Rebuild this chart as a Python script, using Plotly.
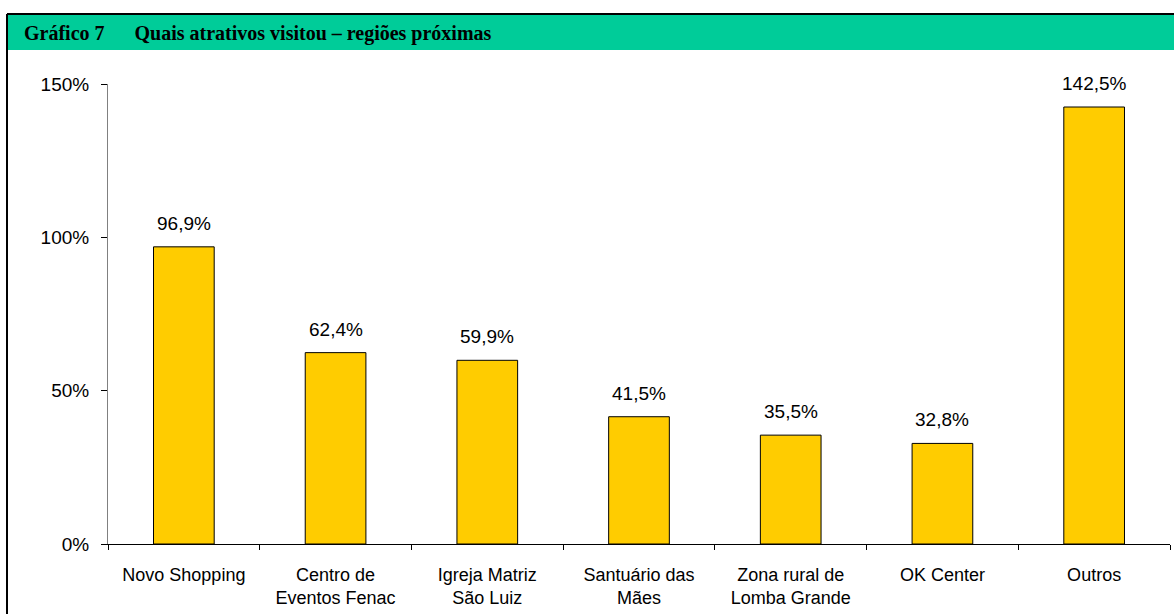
import plotly.graph_objects as go

categories = ["Novo Shopping", "Centro de<br>Eventos Fenac", "Igreja Matriz<br>São Luiz",
              "Santuário das<br>Mães", "Zona rural de<br>Lomba Grande", "OK Center", "Outros"]
values = [96.9, 62.4, 59.9, 41.5, 35.5, 32.8, 142.5]
y_ticks = [0, 50, 100, 150]
y_tick_text = ["0%", "50%", "100%", "150%"]

W, H = 1174, 614
L, R, T, B = 108, 4, 84, 70
pw, ph = W - L - R, H - T - B

def px_x(x):
    return (x - L) / pw

def px_y(y):
    return (H - B - y) / ph

FONT = "Arial, Liberation Sans, sans-serif"

fig = go.Figure(go.Bar(
    x=categories, y=values,
    marker=dict(color="#FFCC00", line=dict(color="#000000", width=1)),
    hoverinfo="x+y",
))

label_annotations = [
    dict(x=c, y=v, xref="x", yref="y", text=f"{v:.1f}%".replace(".", ","),
         showarrow=False, yanchor="bottom", yshift=11,
         font=dict(family=FONT, size=19, color="#000000"))
    for c, v in zip(categories, values)
]

fig.update_layout(
    width=W, height=H,
    margin=dict(l=L, r=R, t=T, b=B),
    paper_bgcolor="white", plot_bgcolor="white",
    bargap=0.6,
    showlegend=False,
    font=dict(family=FONT, size=19, color="#000000"),
    xaxis=dict(
        showline=True, linecolor="#000000", linewidth=1,
        ticks="outside", tickson="boundaries", ticklen=5, tickcolor="#000000",
        showgrid=False, tickfont=dict(size=18), ticklabelstandoff=14,
    ),
    yaxis=dict(
        range=[0, 150], tickvals=y_ticks, ticktext=y_tick_text,
        showline=True, linecolor="#808080", linewidth=1,
        ticks="outside", ticklen=6, tickcolor="#000000",
        showgrid=False, zeroline=False, tickfont=dict(size=19), ticklabelstandoff=8,
    ),
    shapes=[
        dict(type="rect", xref="paper", yref="paper",
             x0=px_x(7), x1=px_x(1180), y0=px_y(50), y1=px_y(15),
             fillcolor="#00CC99", line=dict(width=0), layer="below"),
        dict(type="line", xref="paper", yref="paper",
             x0=px_x(7), x1=px_x(1180), y0=px_y(14), y1=px_y(14),
             line=dict(color="#000000", width=2)),
        dict(type="line", xref="paper", yref="paper",
             x0=px_x(7), x1=px_x(7), y0=px_y(14), y1=px_y(620),
             line=dict(color="#000000", width=2)),
    ],
    annotations=label_annotations + [
        dict(xref="paper", yref="paper", x=px_x(22), y=px_y(33),
             xanchor="left", yanchor="middle", showarrow=False,
             text="<b>Gráfico 7      Quais atrativos visitou – regiões próximas</b>",
             font=dict(family="Times New Roman, Liberation Serif", size=20, color="#000000")),
    ],
)

fig.write_html("out.html", config={"displayModeBar": False},
               post_script="document.body.style.margin='0';document.body.style.overflow='hidden';")
